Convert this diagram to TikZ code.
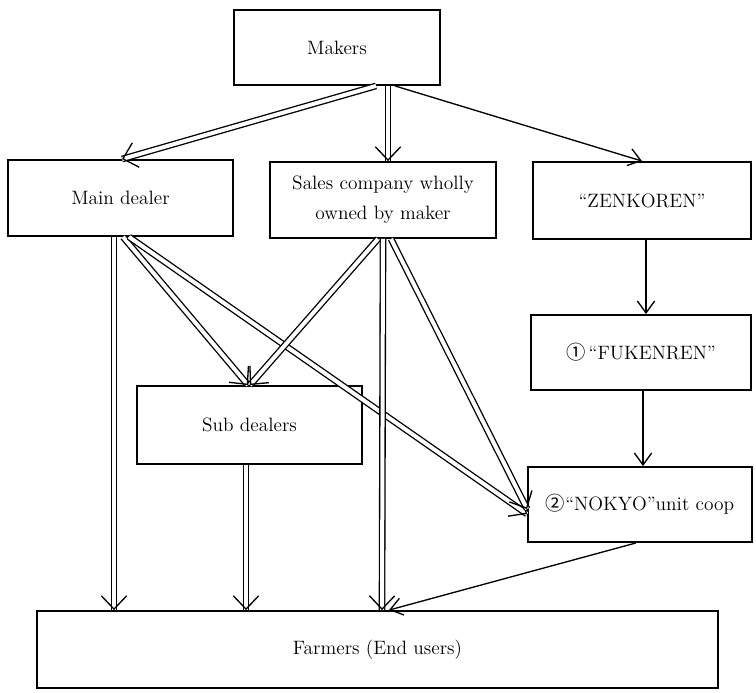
\documentclass[tikz,border=0pt]{standalone}
\usepackage{fontspec}
\newfontfamily\circfont{Noto Sans CJK JP}
\usetikzlibrary{arrows.meta,decorations.markings}

\tikzset{every picture/.style={line width=1pt}}
\tikzset{
  box/.style={draw, line width=1.4pt, inner sep=0pt, align=center,
    font=\fontsize{14.5}{22.5}\selectfont},
  dbl/.style={draw, double, double distance=3pt,
    postaction={decorate, decoration={markings,
      mark=at position 1 with {\arrow[line width=1pt]{Straight Barb[length=10pt,width=19pt]}}}}},
  sgl/.style={draw, -{Straight Barb[length=9pt,width=13pt]}},
}

\begin{document}
\begin{tikzpicture}[x=0.75pt,y=0.75pt,yscale=-1,xscale=1]
\useasboundingbox (0,0) rectangle (756,692);

% Boxes
\node [box, minimum width=154.5pt, minimum height=56.25pt] (makers) at (337,47.5) {Makers};
\node [box, minimum width=168.75pt, minimum height=57pt] (main) at (120.5,198) {Main dealer};
\node [box, minimum width=169.5pt, minimum height=57pt] (sales) at (383,200) {Sales company wholly\\owned by maker};
\node [box, minimum width=163.5pt, minimum height=57.75pt] (zen) at (642,200.5) {``ZENKOREN''};
\node [box, minimum width=165pt, minimum height=56.25pt] (fuk) at (641,352.5) {{\circfont ①}\,``FUKENREN''};
\node [box, minimum width=168.75pt, minimum height=58.5pt] (sub) at (249.5,425) {Sub dealers};
\node [box, minimum width=168pt, minimum height=56.25pt] (nok) at (640,504.5) {{\circfont ②}``NOKYO''unit coop};
\node [box, minimum width=510.75pt, minimum height=57.75pt] (farm) at (377.5,649.5) {Farmers (End users)};

%Straight Lines from Makers
\draw [dbl] (makers.south -| 376,0) -- (main.north -| 122,0);
\draw [dbl] (makers.south -| 388,0) -- (sales.north -| 388,0);
\draw [sgl] (makers.south -| 395,0) -- (zen.north -| 642,0);
%Straight Lines on the right
\draw [sgl] (zen.south -| 646,0) -- (fuk.north -| 646,0);
\draw [sgl] (fuk.south -| 643,0) -- (nok.north -| 643,0);
%Straight Lines from Main dealer
\draw [dbl] (main.south -| 114,0) -- (farm.north -| 114,0);
\draw [dbl] (main.south -| 123,0) -- (sub.north -| 248,0);
\draw [dbl] (main.south -| 129,0) -- (nok.west |- 0,514);
%Straight Lines from Sales company
\draw [dbl] (sales.south -| 378,0) -- (sub.north -| 250,0);
\draw [dbl] (sales.south -| 383,0) -- (farm.north -| 382,0);
\draw [dbl] (sales.south -| 391,0) -- (nok.west |- 0,509);
%Straight Lines to Farmers
\draw [dbl] (sub.south -| 246,0) -- (farm.north -| 246,0);
\draw [sgl] (nok.south -| 636,0) -- (farm.north -| 389,0);

\end{tikzpicture}
\end{document}
